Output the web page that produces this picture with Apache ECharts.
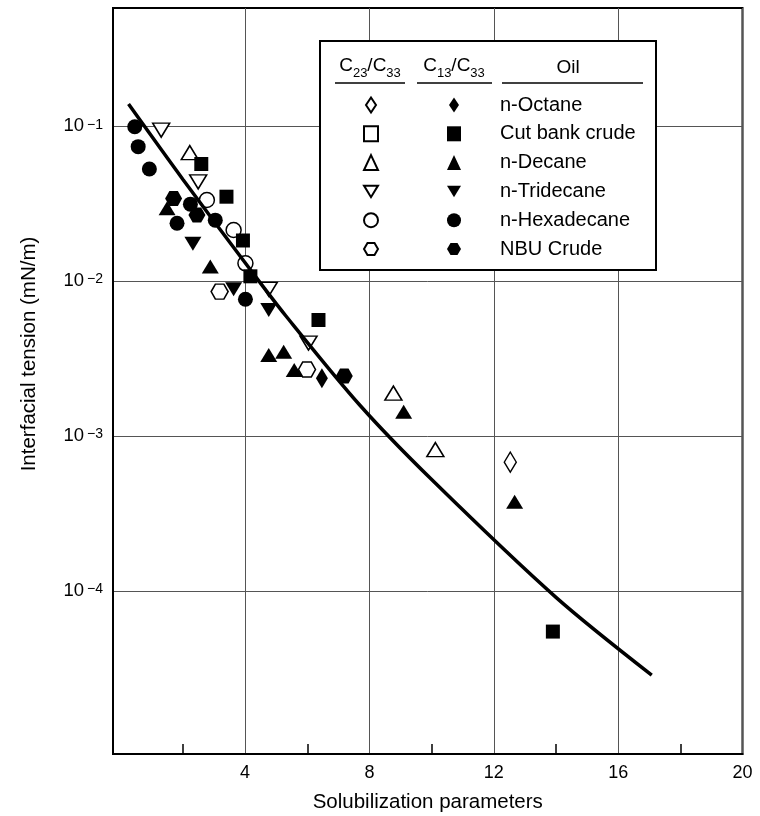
<!DOCTYPE html>
<html><head><meta charset="utf-8">
<script src="https://cdn.jsdelivr.net/npm/echarts@6/dist/echarts.min.js"></script>
<style>html,body{margin:0;padding:0;background:#fff}#c{width:760px;height:816px}</style>
</head><body><div id="c"></div>
<script>
// ---- data ----
const oils = ['n-Octane', 'Cut bank crude', 'n-Decane', 'n-Tridecane', 'n-Hexadecane', 'NBU Crude'];
// open symbols: C23/C33 ; filled symbols: C13/C33   [solubilization parameter, IFT mN/m]
const openOctane = [[12.53, 0.00068]];
const openCutBank = [];
const openDecane = [[2.22, 0.068], [8.77, 0.0019], [10.12, 0.00082]];
const openTridecane = [[1.30, 0.095], [2.49, 0.044], [4.76, 0.0089], [6.04, 0.0040]];
const openHexadecane = [[2.77, 0.0336], [3.63, 0.0215], [4.01, 0.0131]];
const openNBU = [[3.18, 0.0086], [5.99, 0.0027]];
const filledOctane = [[6.47, 0.00237]];
const filledCutBank = [[2.59, 0.0574], [3.40, 0.0353], [3.93, 0.0184], [4.17, 0.0108], [6.36, 0.00564], [13.90, 0.0000547]];
const filledDecane = [[1.49, 0.0297], [2.88, 0.0125], [4.76, 0.00335], [5.24, 0.00352], [5.58, 0.00268], [9.10, 0.00144], [12.67, 0.000378]];
const filledTridecane = [[2.32, 0.0175], [3.63, 0.0089], [4.76, 0.00655]];
const filledHexadecane = [[0.45, 0.100], [0.56, 0.0743], [0.92, 0.0533], [1.81, 0.0238], [2.24, 0.0316], [3.04, 0.0249], [4.01, 0.00768]];
const filledNBU = [[1.70, 0.0344], [2.45, 0.0269], [7.19, 0.00245]];
// correlation curve
const curveX = [0.25, 2.0, 4.17, 5.3, 7.7, 10.0, 14.0, 17.08];
const curveY = [0.140, 0.0456, 0.0119, 0.00603, 0.00158, 0.000525, 0.000091, 0.0000286];
// ticks
const xTickValues = [4, 8, 12, 16, 20];
const xMinorTickValues = [2, 6, 10, 14, 18];
const yTickValues = [1e-1, 1e-2, 1e-3, 1e-4];

// ---- styles ----
const HEX = 'path://M0,8.66 L5,0 L15,0 L20,8.66 L15,17.32 L5,17.32 Z';
const DIAMOND = 'path://M6,0 L12,9 L6,18 L0,9 Z';
const DOWNTRI = 'path://M0,0 L17,0 L8.5,14 Z';
const shapes = [
  {symbol: 'diamond', icon: DIAMOND, size: [12, 20], rot: 0},
  {symbol: 'rect', icon: 'rect', size: [14, 14], rot: 0},
  {symbol: 'triangle', icon: 'triangle', size: [17, 14], rot: 0},
  {symbol: 'triangle', icon: DOWNTRI, size: [17, 14], rot: 180},
  {symbol: 'circle', icon: 'circle', size: [15, 15], rot: 0},
  {symbol: HEX, icon: HEX, size: [17, 15], rot: 0}
];
const openData = [openOctane, openCutBank, openDecane, openTridecane, openHexadecane, openNBU];
const filledData = [filledOctane, filledCutBank, filledDecane, filledTridecane, filledHexadecane, filledNBU];
const openNames = oils.map(o => 'C23/C33 ' + o);

const series = [];
oils.forEach((o, i) => {
  series.push({
    name: openNames[i], type: 'scatter', data: openData[i],
    symbol: shapes[i].symbol, symbolSize: shapes[i].size, symbolRotate: shapes[i].rot,
    itemStyle: {color: '#fff', borderColor: '#000', borderWidth: 1.5, opacity: 1},
    emphasis: {disabled: true}, z: 2
  });
});
oils.forEach((o, i) => {
  series.push({
    name: o, type: 'scatter', data: filledData[i],
    symbol: shapes[i].symbol, symbolSize: shapes[i].size, symbolRotate: shapes[i].rot,
    itemStyle: {color: '#000', borderColor: '#000', borderWidth: 0, opacity: 1},
    emphasis: {disabled: true}, z: 2
  });
});
series.push({
  name: 'fit', type: 'line', smooth: 0.3, symbol: 'none',
  data: curveX.map((x, i) => [x, curveY[i]]),
  lineStyle: {color: '#000', width: 3.5}, z: 3, silent: true
});

const FONT = 'Liberation Sans, Arial, sans-serif';
const legendCommon = {
  orient: 'vertical', top: 95, padding: 0, itemWidth: 14, itemHeight: 15, itemGap: 8.8,
  symbolKeepAspect: true, symbolRotate: 0,
  z: 10, textStyle: {fontFamily: FONT, fontSize: 20, lineHeight: 20, color: '#000'}
};

const chart = echarts.init(document.getElementById('c'), null, {renderer: 'canvas'});
chart.setOption({
  backgroundColor: '#fff',
  animation: false,
  textStyle: {fontFamily: FONT},
  grid: {left: 113, right: 17.5, top: 8, bottom: 62, show: true, borderColor: '#000', borderWidth: 2,
    backgroundColor: 'transparent', containLabel: false, outerBoundsMode: 'none'},
  xAxis: [{
    type: 'value', min: -0.25, max: 20,
    name: 'Solubilization parameters', nameLocation: 'middle', nameGap: 38,
    nameTextStyle: {fontFamily: FONT, fontSize: 20.5, color: '#000'},
    axisLine: {show: true, onZero: false, lineStyle: {color: '#000', width: 2}},
    axisTick: {show: false, customValues: xTickValues},
    axisLabel: {customValues: xTickValues, fontFamily: FONT, fontSize: 18, color: '#000', margin: 10},
    splitLine: {show: true, lineStyle: {color: '#555', width: 1}}
  }, {
    type: 'value', min: -0.25, max: 20, position: 'bottom',
    axisLine: {show: false, onZero: false},
    axisTick: {show: true, inside: true, length: 10, customValues: xMinorTickValues, lineStyle: {color: '#000', width: 1.5}},
    axisLabel: {show: false},
    splitLine: {show: false}
  }],
  yAxis: {
    type: 'log', logBase: 10, min: Math.pow(10, -5.053), max: Math.pow(10, -0.233),
    name: 'Interfacial tension (mN/m)', nameLocation: 'middle', nameGap: 73,
    nameTextStyle: {fontFamily: FONT, fontSize: 20.5, color: '#000', padding: [0, 0, 0, 54]},
    axisLine: {show: true, onZero: false, lineStyle: {color: '#000', width: 2}},
    axisTick: {show: false, customValues: yTickValues},
    axisLabel: {
      customValues: yTickValues, margin: 10,
      formatter: v => '{b|10}{e|\u2212' + Math.round(-Math.log10(v)) + '}',
      rich: {
        b: {fontFamily: FONT, fontSize: 18.5, color: '#000', lineHeight: 18, padding: [6, 0, 0, 0], verticalAlign: 'bottom'},
        e: {fontFamily: FONT, fontSize: 14, color: '#000', lineHeight: 14, padding: [0, 0, 0, 3], verticalAlign: 'top'}
      }
    },
    splitLine: {show: true, lineStyle: {color: '#555', width: 1}}
  },
  legend: [
    Object.assign({}, legendCommon, {left: 363, data: openNames.map((n, i) => ({name: n, icon: shapes[i].icon})),
      formatter: () => ' ', selectedMode: false}),
    Object.assign({}, legendCommon, {left: 447, data: oils.map((n, i) => ({name: n, icon: shapes[i].icon})),
      formatter: n => n, selectedMode: false,
      textStyle: Object.assign({}, legendCommon.textStyle, {padding: [0, 0, 0, 34]})})
  ],
  graphic: {
    elements: [
      {type: 'rect', z: 5, shape: {x: 320, y: 41, width: 336, height: 229}, style: {fill: '#fff', stroke: '#000', lineWidth: 2}},
      {type: 'text', z: 6, x: 370, y: 70, style: {
        text: '{c|C}{s|23}{c|/C}{s|33}', align: 'center', verticalAlign: 'middle',
        rich: {c: {fontFamily: FONT, fontSize: 19, lineHeight: 20, padding: [0, 0, 5, 0], verticalAlign: 'bottom'},
               s: {fontFamily: FONT, fontSize: 13, lineHeight: 14, verticalAlign: 'bottom'}}}},
      {type: 'text', z: 6, x: 454, y: 70, style: {
        text: '{c|C}{s|13}{c|/C}{s|33}', align: 'center', verticalAlign: 'middle',
        rich: {c: {fontFamily: FONT, fontSize: 19, lineHeight: 20, padding: [0, 0, 5, 0], verticalAlign: 'bottom'},
               s: {fontFamily: FONT, fontSize: 13, lineHeight: 14, verticalAlign: 'bottom'}}}},
      {type: 'text', z: 6, x: 568, y: 68, style: {text: 'Oil', fontFamily: FONT, fontSize: 19, fill: '#000', align: 'center', verticalAlign: 'middle'}},
      {type: 'line', z: 6, shape: {x1: 335, y1: 83, x2: 405, y2: 83}, style: {stroke: '#000', lineWidth: 1.5}},
      {type: 'line', z: 6, shape: {x1: 417, y1: 83, x2: 492, y2: 83}, style: {stroke: '#000', lineWidth: 1.5}},
      {type: 'line', z: 6, shape: {x1: 502, y1: 83, x2: 643, y2: 83}, style: {stroke: '#000', lineWidth: 1.5}}
    ]
  },
  series: series
});
</script></body></html>
